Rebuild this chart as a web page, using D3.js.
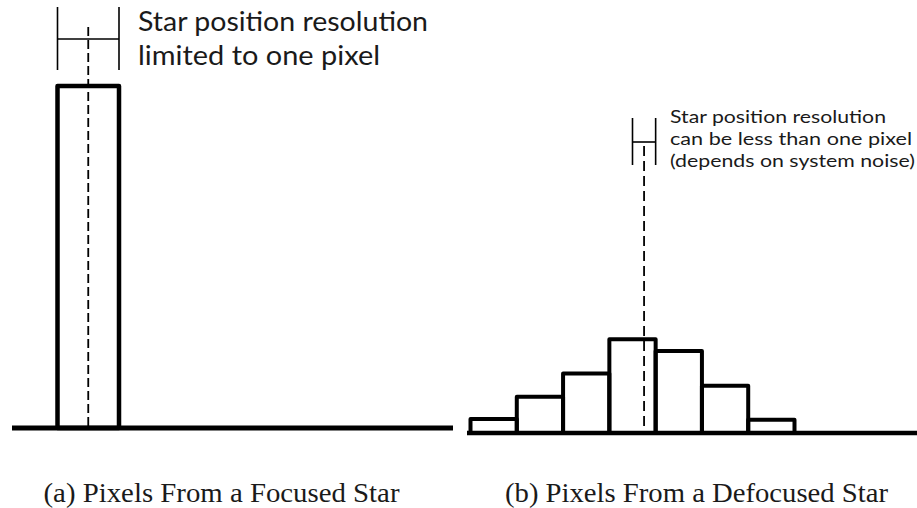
<!DOCTYPE html>
<html>
<head>
<meta charset="utf-8">
<script src="https://cdn.jsdelivr.net/npm/d3@7/dist/d3.min.js"></script>
<style>
  html, body { margin: 0; padding: 0; background: #fff; }
  svg { display: block; }
</style>
</head>
<body>
<svg id="chart" width="917" height="508"></svg>
<script>
// ---- data ----
const focusedValues = [100];                                   // one bright pixel
const defocusedValues = [4.1, 10.6, 17.4, 27.4, 24.0, 13.8, 3.9]; // spread over 7 pixels
const focusedCenter = 0.5;     // star centre, in pixel units
const defocusedCenter = 3.75;
const focusedResolution = [0, 1];       // resolution bracket, pixel units
const defocusedResolution = [3.5, 4];
const focusedNote = ["Star position resolution", "limited to one pixel"];
const defocusedNote = ["Star position resolution", "can be less than one pixel", "(depends on system noise)"];
const captions = ["(a) Pixels From a Focused Star", "(b) Pixels From a Defocused Star"];

const svg = d3.select("#chart");
const ink = "#000";
const textInk = "#1a1a1a";
const noteFont = "Lato, 'Open Sans', sans-serif";

function panel(cfg) {
  const g = svg.append("g");
  const x = d3.scaleLinear().domain([0, cfg.values.length]).range(cfg.xRange);
  const y = d3.scaleLinear().domain([0, 100]).range([cfg.base, cfg.base - cfg.pxPer100]);

  // bars
  g.selectAll("rect.bar").data(cfg.values).join("rect")
    .attr("class", "bar")
    .attr("x", (d, i) => x(i))
    .attr("width", (d, i) => x(i + 1) - x(i))
    .attr("y", d => y(d))
    .attr("height", d => y(0) - y(d))
    .attr("fill", "none")
    .attr("stroke", ink)
    .attr("stroke-width", cfg.barStroke)
    .attr("stroke-linejoin", "round");

  // baseline
  g.append("line")
    .attr("x1", cfg.lineExtent[0]).attr("x2", cfg.lineExtent[1])
    .attr("y1", y(0)).attr("y2", y(0))
    .attr("stroke", ink).attr("stroke-width", cfg.baseStroke);

  // dashed centre line
  g.append("line")
    .attr("x1", x(cfg.center)).attr("x2", x(cfg.center))
    .attr("y1", cfg.dashTop).attr("y2", y(0))
    .attr("stroke", ink).attr("stroke-width", 1.8)
    .attr("stroke-dasharray", cfg.dash);

  // resolution bracket
  const [r0, r1] = cfg.resolution;
  const b = cfg.bracket;
  g.append("line").attr("x1", x(r0)).attr("x2", x(r0)).attr("y1", b.top).attr("y2", b.bottom)
    .attr("stroke", ink).attr("stroke-width", 1.6);
  g.append("line").attr("x1", x(r1)).attr("x2", x(r1)).attr("y1", b.top).attr("y2", b.bottom)
    .attr("stroke", ink).attr("stroke-width", 1.6);
  g.append("line").attr("x1", x(r0)).attr("x2", x(r1)).attr("y1", b.mid).attr("y2", b.mid)
    .attr("stroke", ink).attr("stroke-width", 1.6);

  // note text
  const t = g.append("text")
    .attr("font-family", noteFont)
    .attr("font-size", cfg.noteSize)
    .attr("fill", textInk);
  cfg.note.forEach((line, i) => {
    t.append("tspan")
      .attr("x", cfg.noteX)
      .attr("y", cfg.noteY + i * cfg.noteLead)
      .attr("textLength", cfg.noteWidths[i])
      .attr("lengthAdjust", "spacingAndGlyphs")
      .text(line);
  });

  // caption
  svg.append("text")
    .attr("x", cfg.captionX)
    .attr("y", 501.5)
    .attr("font-family", "'Liberation Serif', 'Times New Roman', serif")
    .attr("font-size", 28)
    .attr("fill", textInk)
    .attr("textLength", cfg.captionWidth)
    .attr("lengthAdjust", "spacingAndGlyphs")
    .text(cfg.caption);
}

panel({
  values: focusedValues,
  xRange: [57.5, 119],
  base: 428,
  pxPer100: 342,
  barStroke: 4.5,
  baseStroke: 5,
  lineExtent: [12, 453],
  center: focusedCenter,
  dashTop: 27,
  dash: "9,4",
  resolution: focusedResolution,
  bracket: { top: 7, bottom: 70, mid: 39 },
  note: focusedNote,
  noteX: 138, noteY: 30.5, noteLead: 34.5, noteSize: 27,
  noteWidths: [290, 242],
  caption: captions[0], captionX: 43.5, captionWidth: 356
});

panel({
  values: defocusedValues,
  xRange: [470.5, 794.5],
  base: 433,
  pxPer100: 342,
  barStroke: 4,
  baseStroke: 4.5,
  lineExtent: [467, 917],
  center: defocusedCenter,
  dashTop: 146,
  dash: "10,5",
  resolution: defocusedResolution,
  bracket: { top: 118, bottom: 165, mid: 142 },
  note: defocusedNote,
  noteX: 670, noteY: 123, noteLead: 22, noteSize: 17,
  noteWidths: [216, 242, 245],
  caption: captions[1], captionX: 505, captionWidth: 383
});
</script>
</body>
</html>
